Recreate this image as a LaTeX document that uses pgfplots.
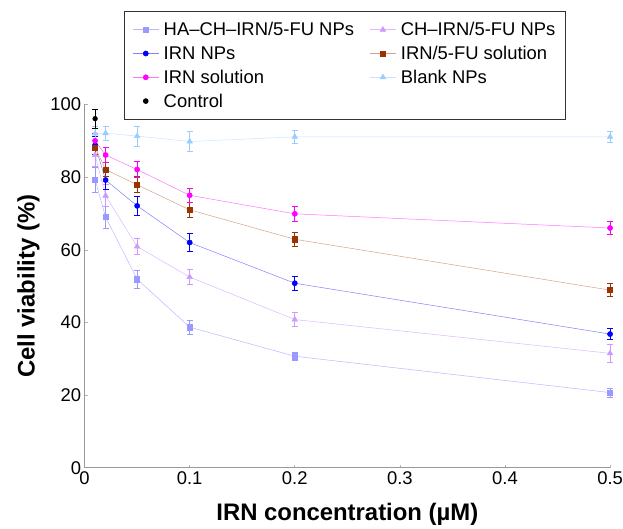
\documentclass[border=0pt]{standalone}
\usepackage{pgfplots}
\pgfplotsset{compat=1.18}
\usepackage{fontspec}
\setmainfont{Liberation Sans}
\definecolor{csq}{HTML}{9999FF}
\definecolor{ctri}{HTML}{CC99FF}
\definecolor{cblue}{HTML}{0000FF}
\definecolor{cbrown}{HTML}{993300}
\definecolor{cmag}{HTML}{FF00FF}
\definecolor{cblank}{HTML}{99CCFF}
\pgfplotsset{
  errc/.style={
    error bars/error bar style={draw=#1, line width=0.7pt},
    error bars/error mark options={rotate=90, mark size=3pt, line width=0.7pt, draw=#1}}}
\begin{document}
\begin{tikzpicture}
\begin{axis}[
  at={(0,0)}, anchor=south west,
  scale only axis,
  width=528pt, height=365pt,
  xmin=0, xmax=0.5, ymin=0, ymax=100,
  axis lines*=left,
  axis line style={draw=gray!80, line width=0.8pt},
  xtick={0,0.1,0.2,0.3,0.4,0.5},
  ytick={0,20,40,60,80,100},
  xticklabels={0,0.1,0.2,0.3,0.4,0.5},
  tick style={draw=gray!60, line width=0.6pt},
  major tick length=3pt,
  tick align=inside,
  tick label style={font=\fontsize{18.5}{20}\selectfont},
  /pgf/number format/assume math mode=true,
  xlabel={\textbf{IRN concentration (µM)}},
  ylabel={\textbf{Cell viability (\%)}},
  label style={font=\fontsize{24}{26}\selectfont},
  xlabel style={yshift=-12pt},
  ylabel style={yshift=4pt},
  clip=false,
  legend columns=2,
  legend style={at={(0.0758,1.2575)}, anchor=north west, draw=black!80, line width=0.8pt,
    font=\fontsize{18.5}{21}\selectfont, row sep=5pt, inner xsep=8pt, inner ysep=9pt,
    /tikz/every even column/.append style={column sep=14pt},
    /tikz/every odd column/.append style={column sep=3pt}},
  legend image code/.code={
    \draw[mark repeat=2, mark phase=2] plot coordinates {(0cm,0cm) (0.45cm,0cm) (0.9cm,0cm)};},
  legend cell align=left,
  error bars/y dir=both, error bars/y explicit,
]
\addplot[color=csq!70, line width=0.5pt, mark=square*, mark size=2.6pt,
  mark options={draw=csq, fill=csq}, errc=csq]
  coordinates {(0.01,79.3) +- (0,3.5) (0.02,69) +- (0,3) (0.05,51.9) +- (0,2.5)
  (0.1,38.7) +- (0,2) (0.2,30.7) +- (0,1.2) (0.5,20.7) +- (0,1.2)};
\addlegendentry{HA–CH–IRN/5-FU NPs}
\addplot[color=ctri!70, line width=0.5pt, mark=triangle*, mark size=3.2pt,
  mark options={draw=ctri, fill=ctri}, errc=ctri]
  coordinates {(0.01,86.1) +- (0,3) (0.02,74.9) +- (0,3) (0.05,60.9) +- (0,2.2)
  (0.1,52.5) +- (0,2) (0.2,40.8) +- (0,2) (0.5,31.5) +- (0,2.5)};
\addlegendentry{CH–IRN/5-FU NPs}
\addplot[color=cblue!50, line width=0.5pt, mark=*, mark size=2.6pt,
  mark options={draw=cblue, fill=cblue}, errc=cblue]
  coordinates {(0.01,88.8) +- (0,2.5) (0.02,79.2) +- (0,2.5) (0.05,72.1) +- (0,2.5)
  (0.1,62) +- (0,2.5) (0.2,50.8) +- (0,2) (0.5,36.8) +- (0,1.5)};
\addlegendentry{IRN NPs}
\addplot[color=cbrown!45, line width=0.5pt, mark=square*, mark size=2.6pt,
  mark options={draw=cbrown, fill=cbrown}, errc=cbrown]
  coordinates {(0.01,88.2) +- (0,2) (0.02,82.1) +- (0,2) (0.05,77.9) +- (0,2.2)
  (0.1,71) +- (0,2) (0.2,62.9) +- (0,2) (0.5,48.9) +- (0,1.8)};
\addlegendentry{IRN/5-FU solution}
\addplot[color=cmag!55, line width=0.5pt, mark=*, mark size=2.6pt,
  mark options={draw=cmag, fill=cmag}, errc=cmag]
  coordinates {(0.01,90) +- (0,2) (0.02,86.1) +- (0,2) (0.05,82.1) +- (0,2.2)
  (0.1,75) +- (0,2) (0.2,69.9) +- (0,2) (0.5,66) +- (0,1.8)};
\addlegendentry{IRN solution}
\addplot[color=cblank!55, line width=0.5pt, mark=triangle*, mark size=3.2pt,
  mark options={draw=cblank, fill=cblank}, errc=cblank]
  coordinates {(0.01,92) +- (0,2) (0.02,92.1) +- (0,2) (0.05,91.3) +- (0,2.8)
  (0.1,89.8) +- (0,2.8) (0.2,91.1) +- (0,1.8) (0.5,91.1) +- (0,1.5)};
\addlegendentry{Blank NPs}
\addplot[color=black, only marks, mark=*, mark size=2.4pt, errc=black]
  coordinates {(0.01,96.1) +- (0,2.6)};
\addlegendentry{Control}
\end{axis}
\pgfresetboundingbox
\path (-85pt,-61pt) rectangle (541pt,470pt);
\end{tikzpicture}
\end{document}
